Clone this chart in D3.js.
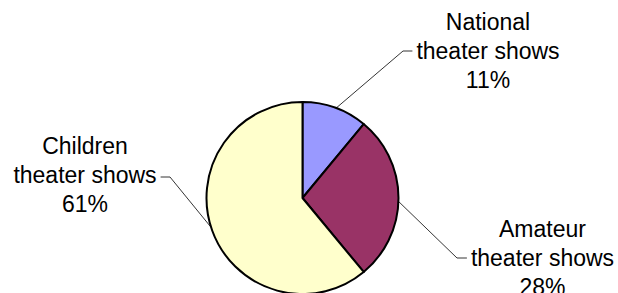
<!DOCTYPE html>
<html>
<head>
<meta charset="utf-8">
<script src="https://cdn.jsdelivr.net/npm/d3@7"></script>
<style>
  body { margin: 0; background: #fff; }
  svg { display: block; }
</style>
</head>
<body>
<svg></svg>
<script>
const categories = ["National theater shows", "Amateur theater shows", "Children theater shows"];
const labelLines = [["National", "theater shows"], ["Amateur", "theater shows"], ["Children", "theater shows"]];
const values = [11, 28, 61];
const colors = ["#9999FF", "#993366", "#FFFFCC"];

const width = 618, height = 293;
const cx = 302.5, cy = 198, r = 96;

const svg = d3.select("svg").attr("width", width).attr("height", height);

const pie = d3.pie().sort(null).value(d => d)(values);
const arc = d3.arc().innerRadius(0).outerRadius(r);

const g = svg.append("g").attr("transform", `translate(${cx},${cy})`);

g.selectAll("path")
    .data(pie)
    .enter().append("path")
    .attr("d", arc)
    .attr("fill", (d, i) => colors[i])
    .attr("stroke", "#000")
    .attr("stroke-width", 2)
    .attr("stroke-linejoin", "round");

// label layout: text centre x, first baseline, leader elbow, angle tweak (deg)
const labelPos = [
    { x: 488, y: 29.5, elbow: [403, 51], side: 1, tweak: 0.7 },
    { x: 542.5, y: 237, elbow: [457, 258], side: 1, tweak: 2 },
    { x: 85, y: 153.5, elbow: [170, 177], side: -1, tweak: 2 }
];
const lineGap = 29;

const labels = svg.append("g")
    .style("font-family", "'Liberation Sans', Arial, sans-serif")
    .style("font-size", "23px")
    .attr("fill", "#000");

pie.forEach((d, i) => {
    const p = labelPos[i];
    const lines = labelLines[i].concat([d3.format(".0%")(values[i] / d3.sum(values))]);
    const t = labels.append("text").attr("text-anchor", "middle");
    lines.forEach((s, k) => {
        t.append("tspan").attr("x", p.x).attr("y", p.y + k * lineGap).text(s);
    });
    const mid = t.select("tspan:nth-child(2)");
    const w = mid.node().getComputedTextLength();
    const edge = p.side > 0 ? p.x - w / 2 - 4 : p.x + w / 2 + 4;

    const a = (d.startAngle + d.endAngle) / 2 + p.tweak * Math.PI / 180;
    const sx = cx + r * Math.sin(a), sy = cy - r * Math.cos(a);
    svg.append("polyline")
        .attr("points", [[sx, sy], p.elbow, [edge, p.elbow[1]]].map(q => q.join(",")).join(" "))
        .attr("fill", "none")
        .attr("stroke", "#000")
        .attr("stroke-width", 0.8);
});
</script>
</body>
</html>
